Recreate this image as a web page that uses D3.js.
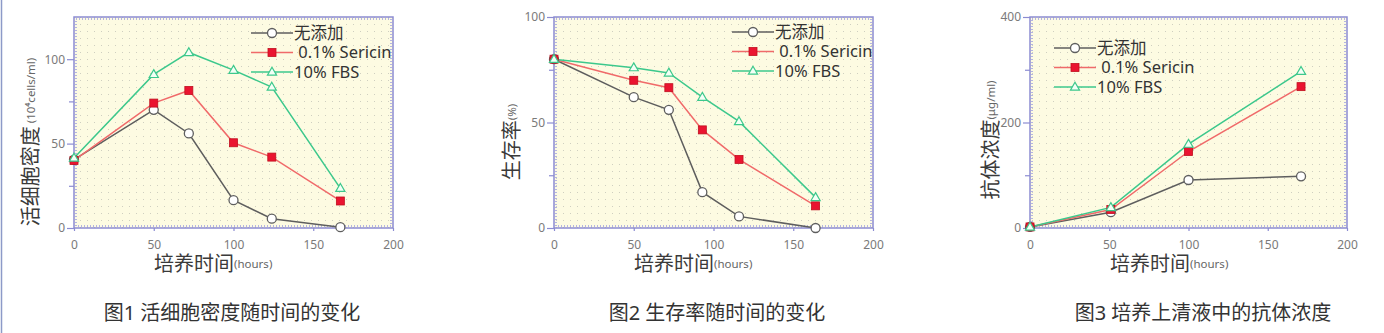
<!DOCTYPE html>
<html>
<head>
<meta charset="utf-8">
<script src="https://cdn.jsdelivr.net/npm/d3@7"></script>
<style>
  body { margin: 0; background: #fff; }
  svg { display: block; font-family: 'Noto Sans', 'Noto Sans CJK SC', sans-serif; }
</style>
</head>
<body>
<div id="chart"></div>
<script>
// series names
let seriesNames = ['无添加', ' 0.1% Sericin', '10% FBS']

// fig 1: viable cell density
let hours1 = [0, 50, 72, 100, 124, 167]
let cellsNone = [40.5, 70, 56, 16.5, 5.5, 0.5]
let cellsSericin = [40, 74, 81.5, 50.5, 42, 16]
let cellsFbs = [41.5, 91, 104, 93.5, 83.5, 23.5]

// fig 2: viability
let hours2 = [0, 50, 72, 93, 116, 164]
let viabNone = [80, 62, 56, 17, 5.5, 0]
let viabSericin = [80, 70, 66.5, 46.5, 32.5, 10.5]
let viabFbs = [80, 76, 73.5, 62, 50.5, 14.5]

// fig 3: antibody concentration
let hours3 = [0, 51, 100, 171]
let abNone = [2, 30, 91, 98]
let abSericin = [2, 35, 145, 268]
let abFbs = [2, 39, 159, 297]

let xTicks = [0, 50, 100, 150, 200]

let captions = ['图1 活细胞密度随时间的变化', '图2 生存率随时间的变化', '图3 培养上清液中的抗体浓度']

let width = 1384,
  height = 333,
  plotTop = 17, // top of plot frames
  plotBottom = 228 // bottom of plot frames

let lineColors = ['#5e5e5e', '#f06a6a', '#3cc88c']

let panels = [
  {
    left: 74, right: 393, yMax: 125, yMajor: [0, 50, 100], yMinor: [25, 75],
    hours: hours1, series: [cellsNone, cellsSericin, cellsFbs],
    yTitle: '活细胞密度', yUnit: ' (10⁴cells/ml)', yTitleX: 32, yTitleY: 142,
    legendX: 251, legendY: 33, caption: captions[0], captionX: 232
  },
  {
    left: 554, right: 873, yMax: 100, yMajor: [0, 50, 100], yMinor: [25, 75],
    hours: hours2, series: [viabNone, viabSericin, viabFbs],
    yTitle: '生存率', yUnit: '(%)', yTitleX: 513, yTitleY: 142,
    legendX: 732, legendY: 32, caption: captions[1], captionX: 717
  },
  {
    left: 1030, right: 1347, yMax: 400, yMajor: [0, 200, 400], yMinor: [100, 300],
    hours: hours3, series: [abNone, abSericin, abFbs],
    yTitle: '抗体浓度', yUnit: '(μg/ml)', yTitleX: 992, yTitleY: 140,
    legendX: 1054, legendY: 48, caption: captions[2], captionX: 1203
  }
]

let svg = d3.select('#chart').append('svg')
  .attr('width', width)
  .attr('height', height)

// dotted background pattern
let defs = svg.append('defs')
defs.append('pattern')
  .attr('id', 'dots')
  .attr('width', 7)
  .attr('height', 7)
  .attr('patternUnits', 'userSpaceOnUse')
  .append('rect')
  .attr('x', 3)
  .attr('y', 3)
  .attr('width', 1)
  .attr('height', 1)
  .attr('fill', '#cfcfc0')

// thin border at far left
svg.append('line')
  .attr('x1', 1.5).attr('x2', 1.5)
  .attr('y1', 0).attr('y2', height)
  .attr('stroke', '#8d9ac8')
  .attr('stroke-width', 1.5)

function drawMarker(g, i, cx, cy) {
  if (i === 0) {
    g.append('circle')
      .attr('cx', cx).attr('cy', cy).attr('r', 4.5)
      .attr('fill', '#fff').attr('stroke', lineColors[0]).attr('stroke-width', 1.3)
  } else if (i === 1) {
    g.append('rect')
      .attr('x', cx - 4).attr('y', cy - 4).attr('width', 8).attr('height', 8)
      .attr('fill', '#ea1430').attr('stroke', '#c0101f').attr('stroke-width', 0.8)
  } else {
    g.append('path')
      .attr('d', d3.symbol().type(d3.symbolTriangle).size(36)())
      .attr('transform', 'translate(' + cx + ',' + (cy + 0.5) + ')')
      .attr('fill', '#f3fff6').attr('stroke', lineColors[2]).attr('stroke-width', 1.2)
  }
}

panels.forEach(p => {
  let x = d3.scaleLinear().domain([0, 200]).range([p.left, p.right])
  let y = d3.scaleLinear().domain([0, p.yMax]).range([plotBottom, plotTop])

  let g = svg.append('g')

  g.append('rect')
    .attr('x', p.left).attr('y', plotTop)
    .attr('width', p.right - p.left).attr('height', plotBottom - plotTop)
    .attr('fill', '#fdfbe2')
  g.append('rect')
    .attr('x', p.left).attr('y', plotTop)
    .attr('width', p.right - p.left).attr('height', plotBottom - plotTop)
    .attr('fill', 'url(#dots)')

  // inner hatch along the frame
  g.append('rect')
    .attr('x', p.left + 2).attr('y', plotTop + 2)
    .attr('width', p.right - p.left - 4).attr('height', plotBottom - plotTop - 4)
    .attr('fill', 'none')
    .attr('stroke', '#b4b4e0')
    .attr('stroke-width', 2)
    .attr('stroke-dasharray', '1,2')

  g.append('rect')
    .attr('x', p.left).attr('y', plotTop)
    .attr('width', p.right - p.left).attr('height', plotBottom - plotTop)
    .attr('fill', 'none')
    .attr('stroke', '#8c8cd2')
    .attr('stroke-width', 1.5)

  // axes
  let yMajor = g.append('g')
    .attr('transform', 'translate(' + p.left + ',0)')
    .call(d3.axisLeft(y).tickValues(p.yMajor).tickSize(7).tickPadding(2))
  let yMinor = g.append('g')
    .attr('transform', 'translate(' + p.left + ',0)')
    .call(d3.axisLeft(y).tickValues(p.yMinor).tickSize(5).tickFormat(''))
  let xAxis = g.append('g')
    .attr('transform', 'translate(0,' + plotBottom + ')')
    .call(d3.axisBottom(x).tickValues(xTicks).tickSize(3).tickPadding(9))

  ;[yMajor, yMinor, xAxis].forEach(a => {
    a.select('.domain').remove()
    a.selectAll('line').attr('stroke', '#8c8cd2').attr('stroke-width', 1.2)
    a.selectAll('text')
      .attr('fill', '#7a7a7a')
      .attr('font-size', 12)
      .attr('font-family', "'Noto Sans', sans-serif")
  })

  // series lines + markers
  let line = d3.line()
    .x((d, i) => x(p.hours[i]))
    .y(d => y(d))

  p.series.forEach((s, si) => {
    g.append('path')
      .datum(s)
      .attr('d', line)
      .attr('fill', 'none')
      .attr('stroke', lineColors[si])
      .attr('stroke-width', 1.5)
  })
  p.series.forEach((s, si) => {
    s.forEach((v, i) => drawMarker(g, si, x(p.hours[i]), y(v)))
  })

  // legend
  seriesNames.forEach((name, i) => {
    let ly = p.legendY + i * 19.5
    g.append('line')
      .attr('x1', p.legendX).attr('x2', p.legendX + 42)
      .attr('y1', ly).attr('y2', ly)
      .attr('stroke', lineColors[i]).attr('stroke-width', 1.5)
    drawMarker(g, i, p.legendX + 21, ly)
    g.append('text')
      .attr('x', p.legendX + 43)
      .attr('y', ly)
      .attr('dy', '0.36em')
      .attr('font-size', 16.5)
      .attr('fill', '#333')
      .attr('xml:space', 'preserve')
      .text(name)
  })

  // axis titles (unit part smaller, vertically centred on the main text)
  let yt = g.append('text')
    .attr('transform', 'translate(' + p.yTitleX + ',' + p.yTitleY + ') rotate(-90)')
    .attr('text-anchor', 'middle')
    .attr('dy', '0.36em')
    .attr('fill', '#3a3a3a')
  yt.append('tspan').attr('font-size', 20).text(p.yTitle)
  yt.append('tspan').attr('font-size', 11.5).attr('dy', -3).attr('fill', '#666').text(p.yUnit)

  let xt = g.append('text')
    .attr('x', p.left + 80)
    .attr('y', 265)
    .attr('dy', '0.36em')
    .attr('fill', '#3a3a3a')
  xt.append('tspan').attr('font-size', 20).text('培养时间')
  xt.append('tspan').attr('font-size', 11.5).attr('dy', -3).attr('fill', '#666').text('(hours)')

  // caption
  g.append('text')
    .attr('x', p.captionX)
    .attr('y', 313)
    .attr('dy', '0.36em')
    .attr('text-anchor', 'middle')
    .attr('font-size', 20)
    .attr('fill', '#333')
    .text(p.caption)
})
</script>
</body>
</html>
